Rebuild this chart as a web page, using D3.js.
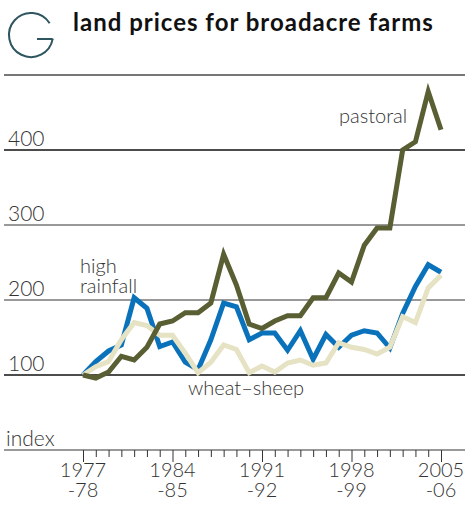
<!DOCTYPE html>
<html>
<head>
<meta charset="utf-8">
<script src="https://cdn.jsdelivr.net/npm/d3@7"></script>
<style>
  html, body { margin: 0; padding: 0; background: #fff; }
  svg { display: block; }
  .lbl { font-family: Lato, "Open Sans", sans-serif; font-weight: 300; fill: #333; }
</style>
</head>
<body>
<svg id="chart" width="465" height="509"></svg>
<script>
const years = d3.range(1977, 2006);
const pastoral = [100, 96, 104, 125, 120, 137, 168, 172, 183, 183, 196, 261, 220, 168, 162, 172, 179, 179, 203, 203, 236, 224, 273, 296, 296, 400, 411, 478, 427];
const highRainfall = [100, 118, 132, 140, 203, 189, 138, 144, 117, 107, 147, 196, 191, 147, 156, 156, 133, 159, 121, 154, 137, 153, 159, 156, 136, 182, 218, 247, 237];
const wheatSheep = [100, 111, 118, 147, 170, 166, 153, 153, 129, 103, 117, 140, 134, 103, 112, 104, 116, 120, 113, 116, 143, 137, 134, 128, 137, 178, 170, 216, 233];
const yTicks = [100, 200, 300, 400];
const gridVals = [0, 100, 200, 300, 400, 500];
const xLabelYears = [1977, 1984, 1991, 1998, 2005];
const xLabelTop = ["1977", "1984", "1991", "1998", "2005"];
const xLabelBottom = ["-78", "-85", "-92", "-99", "-06"];

const svg = d3.select("#chart");
const x = d3.scaleLinear().domain([1977, 2005]).range([83, 441]);
const y = d3.scaleLinear().domain([0, 500]).range([450, 75]);

// G logo
const cx = 31, cy = 35, r = 22;
const a0 = -32 * Math.PI / 180, a1 = 10 * Math.PI / 180;
const p0 = [cx + r * Math.cos(a0), cy + r * Math.sin(a0)];
const p1 = [cx + r * Math.cos(a1), cy + r * Math.sin(a1)];
svg.append("path")
  .attr("d", `M${p0[0]},${p0[1]} A${r},${r} 0 1 0 ${p1[0]},${p1[1]} L${p1[0]},${cy + 4} L${cx + 6},${cy + 4}`)
  .attr("fill", "none").attr("stroke", "#2e5661").attr("stroke-width", 2);

svg.append("text").attr("x", 73).attr("y", 31)
  .attr("font-family", "Lato, sans-serif").attr("font-weight", 700)
  .attr("font-size", 24).attr("letter-spacing", 1.0).attr("fill", "#111")
  .text("land prices for broadacre farms");

// grid lines
svg.selectAll(".grid").data(gridVals).enter().append("line")
  .attr("x1", 4).attr("x2", 465)
  .attr("y1", d => y(d)).attr("y2", d => y(d))
  .attr("stroke", d => (d === 100 || d === 400) ? "#111" : "#777")
  .attr("stroke-width", d => d === 500 ? 2 : 1.3);

// y labels
svg.selectAll(".ylab").data(yTicks).enter().append("text")
  .attr("class", "lbl").attr("x", 8).attr("y", d => y(d) - 4)
  .attr("font-size", 21).text(d => d);
svg.append("text").attr("class", "lbl").attr("x", 6).attr("y", y(0) - 4)
  .attr("font-size", 21).text("index");

// x ticks
const xAxis = d3.axisBottom(x).tickValues(years).tickSize(7).tickFormat("");
const gx = svg.append("g").attr("transform", `translate(0,${y(0)})`).call(xAxis);
gx.select(".domain").remove();
gx.selectAll(".tick line").attr("stroke", "#333").attr("stroke-width", 1)
  .attr("y2", d => xLabelYears.includes(d) ? 12 : 7);

xLabelYears.forEach((yr, i) => {
  svg.append("text").attr("class", "lbl").attr("x", x(yr)).attr("y", 477)
    .attr("text-anchor", "middle").attr("font-size", 20).text(xLabelTop[i]);
  svg.append("text").attr("class", "lbl").attr("x", x(yr)).attr("y", 497)
    .attr("text-anchor", "middle").attr("font-size", 20).text(xLabelBottom[i]);
});

// lines
const line = d3.line().x((d, i) => x(years[i])).y(d => y(d));
[[highRainfall, "#0a72bb"], [wheatSheep, "#e6e2c4"], [pastoral, "#5a5e33"]].forEach(([data, col]) => {
  svg.append("path").datum(data).attr("d", line)
    .attr("fill", "none").attr("stroke", col).attr("stroke-width", 5)
    .attr("stroke-linejoin", "miter").attr("stroke-linecap", "butt");
});

// series labels
svg.append("text").attr("class", "lbl").attr("x", 80).attr("y", 273).attr("font-size", 20).text("high");
svg.append("text").attr("class", "lbl").attr("x", 80).attr("y", 293).attr("font-size", 20).text("rainfall");
svg.append("text").attr("class", "lbl").attr("x", 339).attr("y", 123).attr("font-size", 20).text("pastoral");
svg.append("text").attr("class", "lbl").attr("x", 188).attr("y", 395).attr("font-size", 20).text("wheat–sheep");
</script>
</body>
</html>
